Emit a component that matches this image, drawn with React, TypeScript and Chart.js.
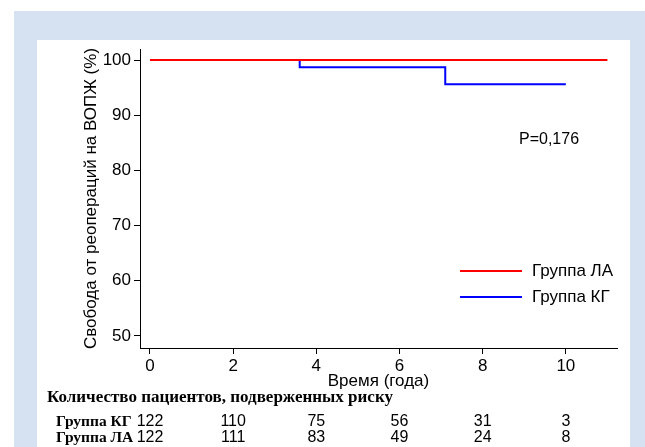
import React, { useEffect, useRef } from "react";
import { Chart, registerables } from "chart.js";

Chart.register(...registerables);

// ---- data ----
const kgTimes = [0, 3.6, 7.1, 10];
const kgSurvival = [100, 98.7, 95.6, 95.6];
const laTimes = [0, 11];
const laSurvival = [100, 100];

const xTicks = [0, 2, 4, 6, 8, 10];
const yTicks = [50, 60, 70, 80, 90, 100];

const riskTimes = [0, 2, 4, 6, 8, 10];
const riskKG = [122, 110, 75, 56, 31, 3];
const riskLA = [122, 111, 83, 49, 24, 8];

const labelLA = "Группа ЛА";
const labelKG = "Группа КГ";
const pValueText = "P=0,176";
const yTitle = "Свобода от реопераций на ВОПЖ (%)";
const xTitle = "Время (года)";
const riskTitle = "Количество пациентов, подверженных риску";

const RED = "#ff0000";
const BLUE = "#0000ff";
const FRAME = "#d6e2f1";
const SANS = "'Liberation Sans', Arial, sans-serif";
const SERIF = "'Liberation Serif', 'Times New Roman', serif";

const decorPlugin = {
  id: "decor",
  beforeDraw(chart: any) {
    const { ctx, width, height } = chart;
    ctx.save();
    ctx.fillStyle = "#ffffff";
    ctx.fillRect(0, 0, width, height);
    ctx.fillStyle = FRAME;
    ctx.fillRect(14, 11, width - 14, height - 11);
    ctx.fillStyle = "#ffffff";
    ctx.fillRect(37, 40, 593, height - 40);
    ctx.restore();
  },
  afterDraw(chart: any) {
    const { ctx } = chart;
    const xs = chart.scales.x;
    ctx.save();
    // P value
    ctx.fillStyle = "#000";
    ctx.font = `16px ${SANS}`;
    ctx.textAlign = "left";
    ctx.textBaseline = "middle";
    ctx.fillText(pValueText, 519, 140);

    // legend
    const legendItems = [
      { label: labelLA, color: RED, y: 271 },
      { label: labelKG, color: BLUE, y: 297 },
    ];
    ctx.font = `17px ${SANS}`;
    legendItems.forEach((it) => {
      ctx.strokeStyle = it.color;
      ctx.lineWidth = 2;
      ctx.beginPath();
      ctx.moveTo(460, it.y);
      ctx.lineTo(522, it.y);
      ctx.stroke();
      ctx.fillStyle = "#000";
      ctx.fillText(it.label, 532, it.y);
    });

    // risk table
    ctx.font = `bold 17px ${SERIF}`;
    ctx.textAlign = "left";
    ctx.fillText(riskTitle, 47, 398);
    const rows = [
      { label: labelKG, values: riskKG, y: 422 },
      { label: labelLA, values: riskLA, y: 438 },
    ];
    rows.forEach((r) => {
      ctx.font = `bold 15.5px ${SERIF}`;
      ctx.textAlign = "left";
      ctx.fillText(r.label, 56, r.y);
      ctx.font = `16px ${SANS}`;
      ctx.textAlign = "center";
      r.values.forEach((v, i) => {
        ctx.fillText(String(v), xs.getPixelForValue(riskTimes[i]), r.y);
      });
    });
    ctx.restore();
  },
};

export default function App() {
  const canvasRef = useRef<HTMLCanvasElement | null>(null);

  useEffect(() => {
    document.body.style.margin = "0";
    const canvas = canvasRef.current;
    if (!canvas) return;
    const chart = new Chart(canvas, {
      type: "line",
      data: {
        datasets: [
          {
            label: labelLA,
            data: laTimes.map((t, i) => ({ x: t, y: laSurvival[i] })),
            borderColor: RED,
            borderWidth: 2,
            pointRadius: 0,
            stepped: "before",
            fill: false,
          },
          {
            label: labelKG,
            data: kgTimes.map((t, i) => ({ x: t, y: kgSurvival[i] })),
            borderColor: BLUE,
            borderWidth: 2,
            pointRadius: 0,
            stepped: "before",
            fill: false,
          },
        ],
      },
      options: {
        animation: false,
        responsive: false,
        devicePixelRatio: 1,
        layout: { padding: { left: 37, top: 49, right: 28, bottom: 55 } },
        plugins: {
          legend: { display: false },
          tooltip: { enabled: false },
        },
        scales: {
          x: {
            type: "linear",
            min: -0.24,
            max: 11.23,
            afterBuildTicks: (s: any) => {
              s.ticks = xTicks.map((v) => ({ value: v }));
            },
            afterFit: (s: any) => {
              s.height = 44;
            },
            grid: {
              drawOnChartArea: false,
              drawTicks: true,
              tickLength: 6,
              color: "#000",
            },
            border: { display: true, color: "#000", width: 1 },
            ticks: {
              color: "#000",
              padding: 2,
              font: { family: SANS, size: 17 },
              callback: (v: any) => String(v),
            },
            title: {
              display: true,
              text: xTitle,
              color: "#000",
              font: { family: SANS, size: 17 },
              padding: { top: 0, bottom: 0 },
            },
          },
          y: {
            type: "linear",
            min: 47.8,
            max: 102,
            afterBuildTicks: (s: any) => {
              s.ticks = yTicks.map((v) => ({ value: v }));
            },
            afterFit: (s: any) => {
              s.width = 103;
            },
            grid: {
              drawOnChartArea: false,
              drawTicks: true,
              tickLength: 6,
              color: "#000",
            },
            border: { display: true, color: "#000", width: 1 },
            ticks: {
              color: "#000",
              padding: 3,
              font: { family: SANS, size: 17 },
              callback: (v: any) => String(v),
            },
            title: {
              display: true,
              text: yTitle,
              color: "#000",
              font: { family: SANS, size: 17 },
              padding: { top: 44, bottom: 0 },
            },
          },
        },
      },
      plugins: [decorPlugin],
    } as any);
    return () => chart.destroy();
  }, []);

  return (
    <div style={{ position: "fixed", left: 0, top: 0, width: 645, height: 447 }}>
      <canvas ref={canvasRef} width={645} height={447} />
    </div>
  );
}
